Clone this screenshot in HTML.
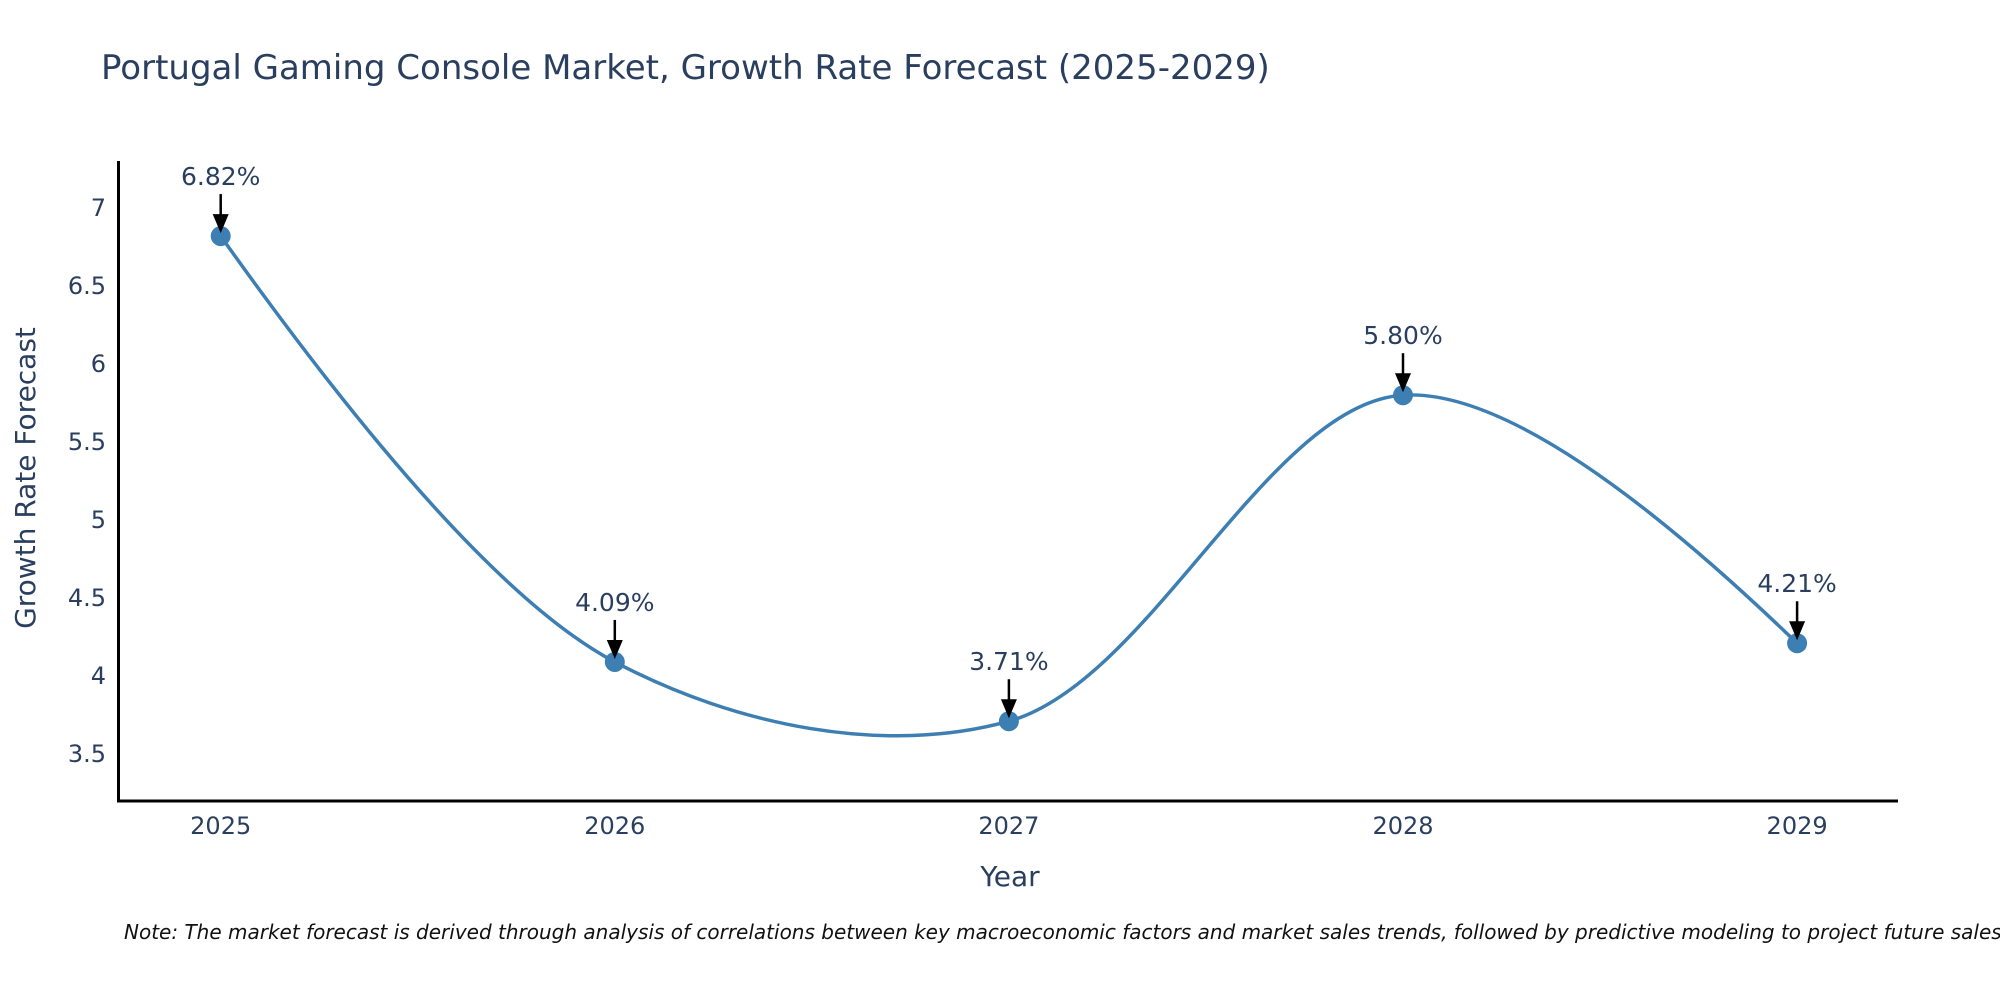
<!DOCTYPE html>
<html><head><meta charset="utf-8"><style>
html,body{margin:0;padding:0;background:#fff;}
svg{display:block;font-family:"DejaVu Sans","Liberation Sans",sans-serif;}
</style></head><body>
<svg id="chart" width="2000" height="1000" viewBox="0 0 2000 1000">
<text x="101" y="79" font-size="34" fill="#2a3f5f">Portugal Gaming Console Market, Growth Rate Forecast (2025-2029)</text>
<g id="plot"></g>
<text x="1010" y="886" font-size="28" fill="#2a3f5f" text-anchor="middle">Year</text>
<text transform="translate(35,478) rotate(-90)" font-size="28" fill="#2a3f5f" text-anchor="middle">Growth Rate Forecast</text>
<text x="124" y="939" font-size="20" font-style="italic" fill="#111">Note: The market forecast is derived through analysis of correlations between key macroeconomic factors and market sales trends, followed by predictive modeling to project future sales.</text>
</svg>
<script>
const years = ["2025","2026","2027","2028","2029"];
const values = [6.82, 4.09, 3.71, 5.80, 4.21];
const labels = ["6.82%","4.09%","3.71%","5.80%","4.21%"];
const yTicks = [3.5, 4, 4.5, 5, 5.5, 6, 6.5, 7];
const yTickLabels = ["3.5","4","4.5","5","5.5","6","6.5","7"];

const NS = "http://www.w3.org/2000/svg";
const g = document.getElementById('plot');
const xs = i => 220.7 + i * 394.1;
const ys = v => 208 + (7 - v) * 156;
function mk(tag, attrs){ const e = document.createElementNS(NS, tag); for (const k in attrs) e.setAttribute(k, attrs[k]); g.appendChild(e); return e; }

let ax = mk('line',{x1:118.5,y1:161,x2:118.5,y2:802,stroke:'#000','stroke-width':3});


ax = mk('line',{x1:117,y1:801,x2:1898,y2:801,stroke:'#000','stroke-width':3});



yTicks.forEach((v,i)=>{
  const t = mk('text',{x:106,y:ys(v)+8,'font-size':24,fill:'#2a3f5f','text-anchor':'end'});
  t.textContent = yTickLabels[i];
  
  
});
years.forEach((y,i)=>{
  const t = mk('text',{x:xs(i),y:834,'font-size':24,fill:'#2a3f5f','text-anchor':'middle'});
  t.textContent = y;
  
  
});

const pts = values.map((v,i)=>[xs(i), ys(v)]);
function tangent(p,c,n,s){
  const d1x=p[0]-c[0], d1y=p[1]-c[1], d2x=n[0]-c[0], d2y=n[1]-c[1];
  const d1a=Math.pow(d1x*d1x+d1y*d1y,0.25), d2a=Math.pow(d2x*d2x+d2y*d2y,0.25);
  const nx=(d2a*d2a*d1x-d1a*d1a*d2x)*s, ny=(d2a*d2a*d1y-d1a*d1a*d2y)*s;
  const den1=3*d2a*(d1a+d2a), den2=3*d1a*(d1a+d2a);
  return [[c[0]+nx/den1, c[1]+ny/den1],[c[0]-nx/den2, c[1]-ny/den2]];
}
const tg=[];
for(let i=1;i<pts.length-1;i++) tg.push(tangent(pts[i-1],pts[i],pts[i+1],1));
let d='M'+pts[0]+'Q'+tg[0][0]+' '+pts[1];
for(let i=2;i<pts.length-1;i++) d+='C'+tg[i-2][1]+' '+tg[i-1][0]+' '+pts[i];
d+='Q'+tg[tg.length-1][1]+' '+pts[pts.length-1];
const line = mk('path',{d:d,fill:'none',stroke:'#3d7fb3','stroke-width':3.5});



pts.forEach((p,i)=>{
  const c = mk('circle',{cx:p[0],cy:p[1],r:10,fill:'#3d7fb3'});
  
  
  const a = mk('line',{x1:p[0],y1:p[1]-42,x2:p[0],y2:p[1]-20,stroke:'#000','stroke-width':2.5});
  
  
  const h = mk('path',{d:`M${p[0]-8},${p[1]-22} L${p[0]+8},${p[1]-22} L${p[0]},${p[1]-3} Z`,fill:'#000'});
  
  
  const t = mk('text',{x:p[0],y:p[1]-51,'font-size':25,fill:'#2a3f5f','text-anchor':'middle'});
  t.textContent = labels[i];
  
  
});
</script>
</body></html>
